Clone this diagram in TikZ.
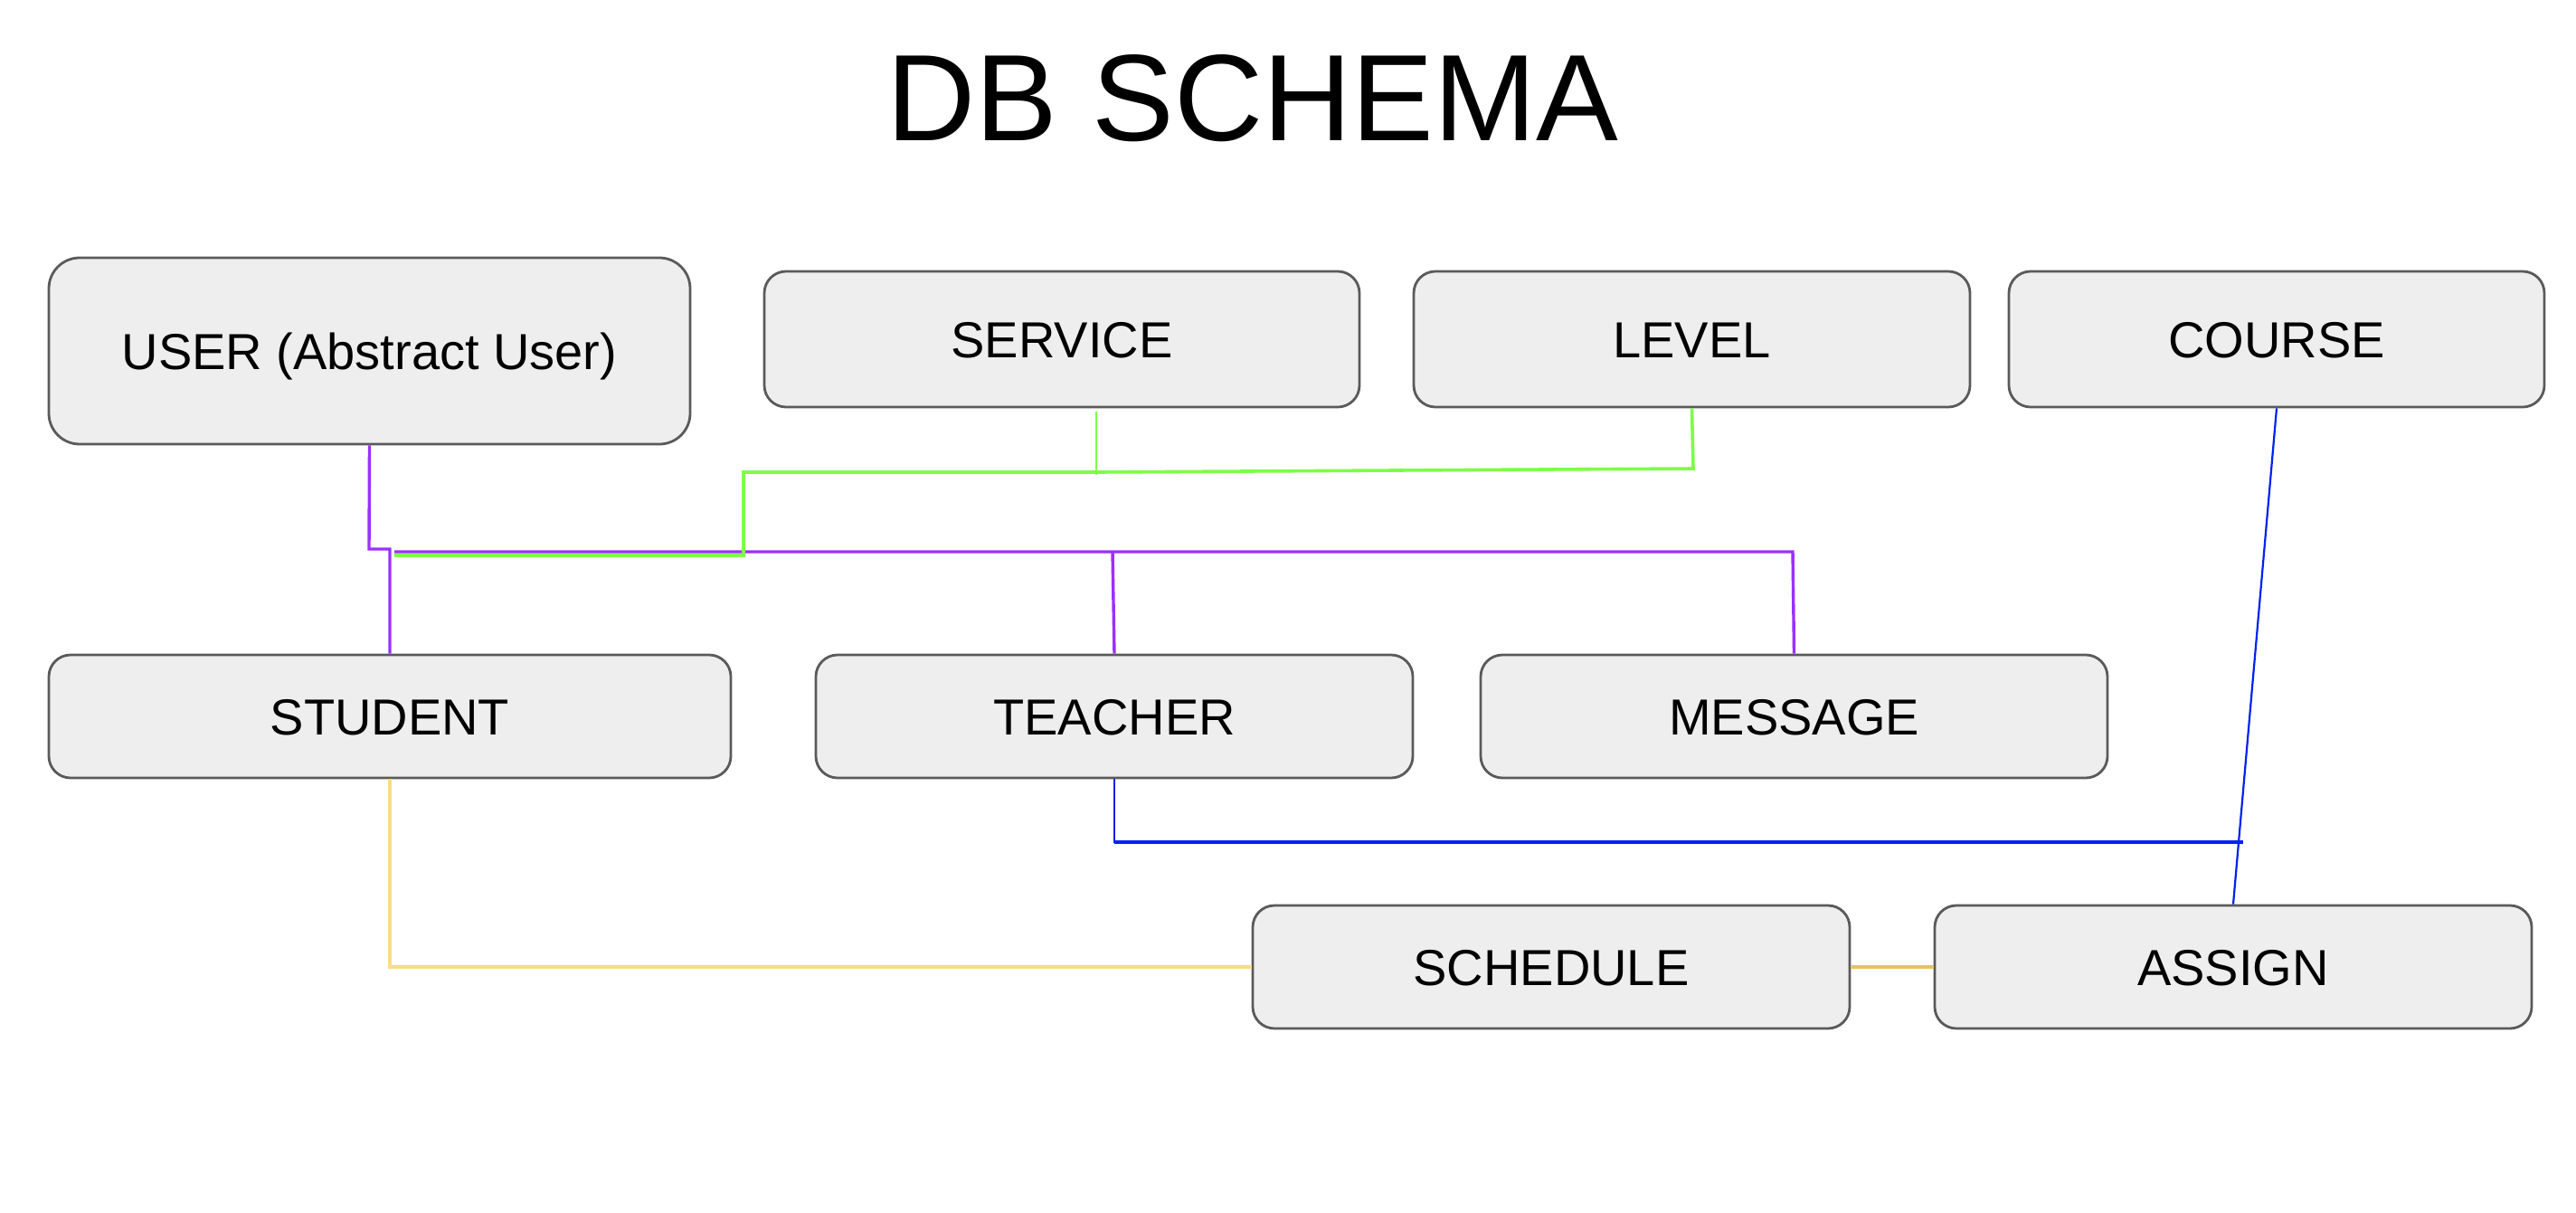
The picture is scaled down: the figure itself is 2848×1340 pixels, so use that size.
\documentclass[tikz,border=0pt]{standalone}
\usepackage{fontspec}
\setmainfont{Liberation Sans}
\definecolor{boxfill}{HTML}{EEEEEE}
\definecolor{boxline}{HTML}{5A5A5A}
\definecolor{cpurple}{HTML}{9B30FF}
\definecolor{cgreen}{HTML}{7CFF45}
\definecolor{cblue}{HTML}{0022F0}
\definecolor{cyellow}{HTML}{FADC84}
\definecolor{cyellowd}{HTML}{E6C35A}
\begin{document}
\begin{tikzpicture}[x=0.5pt,y=-0.5pt,
  entity/.style={draw=boxline, fill=boxfill, line width=1.4pt, rounded corners=12pt,
    inner sep=0pt, text height=20pt, text depth=0pt,
    font=\fontsize{28}{33}\selectfont},
  purp/.style={draw=cpurple, line width=1.7pt},
  grn/.style={draw=cgreen, line width=1.8pt},
  blu/.style={draw=cblue, line width=1.1pt},
  yel/.style={draw=cyellow, line width=1.7pt}]
\useasboundingbox (0,0) rectangle (2848,1340);
\node[anchor=base, font=\fontsize{68}{80}\selectfont] (title) at (1385,155) {DB SCHEMA};
% top row
\node[entity, rounded corners=17pt, minimum width=354.5pt, minimum height=103pt] (user) at (408.5,388) {USER (Abstract User)};
\node[entity, minimum width=329pt, minimum height=75pt] (service) at (1174,375) {SERVICE};
\node[entity, minimum width=307.5pt, minimum height=75pt] (level) at (1870.5,375) {LEVEL};
\node[entity, minimum width=296pt, minimum height=75pt] (course) at (2517,375) {COURSE};
% middle row
\node[entity, minimum width=377pt, minimum height=68pt] (student) at (431,792) {STUDENT};
\node[entity, minimum width=330pt, minimum height=68pt] (teacher) at (1232,792) {TEACHER};
\node[entity, minimum width=346.5pt, minimum height=68pt] (message) at (1983.5,792) {MESSAGE};
% bottom row
\node[entity, minimum width=330pt, minimum height=68pt] (schedule) at (1715,1069) {SCHEDULE};
\node[entity, minimum width=330pt, minimum height=68pt] (assign) at (2469,1069) {ASSIGN};
% coordinates
\coordinate (ubend) at (408,607);
\coordinate (busL) at (436,610);
\coordinate (busR) at (1982,610);
\coordinate (tjoin) at (1230,610);
\coordinate (gL) at (436,614);
\coordinate (gK) at (822,614);
\coordinate (gU) at (822,522);
\coordinate (gS) at (1212,522);
\coordinate (gE) at (1872,518);
\coordinate (sTop) at (1212,455);
\coordinate (sBot) at (1212,525);
\coordinate (bEnd) at (2480,931);
% purple
\draw[purp] (user.south) -- (ubend) -| (student.north);
\draw[purp] (busL) -- (busR) -- (message.north);
\draw[purp] (tjoin) -- (teacher.north);
% green
\draw[grn] (gL) -- (gK) -- (gU) -- (gS) -- (gE) -- (level.south);
\draw[grn, line width=1pt] (sTop) -- (sBot);
% blue
\draw[blu] (teacher.south) |- (bEnd);
\draw[cblue, line width=2.2pt] (teacher.south |- bEnd) -- (bEnd);
\draw[blu] (course.south) -- (assign.north);
% yellow
\draw[yel] (student.south) |- (schedule.west);
\draw[draw=cyellowd, line width=2.2pt] (schedule.east) -- (assign.west);
\end{tikzpicture}
\end{document}
